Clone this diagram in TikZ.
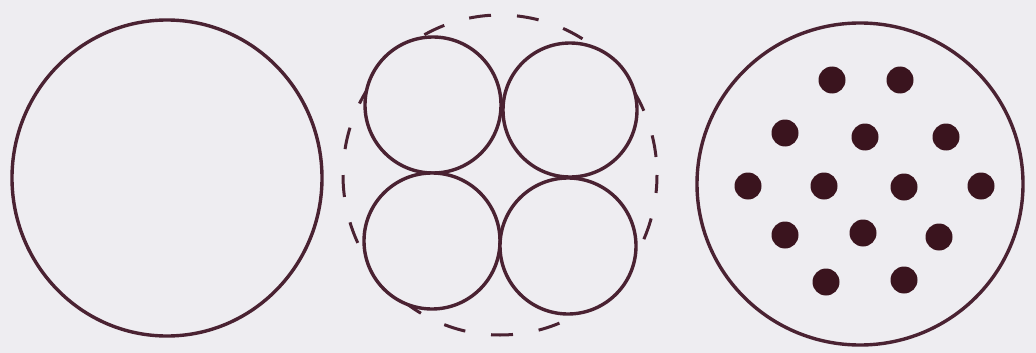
\documentclass[tikz,border=0pt]{standalone}
\usepackage{xcolor}
\definecolor{ink}{HTML}{4A2232}
\definecolor{dotink}{HTML}{3A141E}
\definecolor{paper}{HTML}{EEEDF1}
\begin{document}
\begin{tikzpicture}[x=1pt,y=-1pt,
  ring/.style={draw=ink,line width=3.4pt},
  dashring/.style={draw=ink,line width=3pt,dash pattern=on 22pt off 26pt,dash phase=4pt},
  dot/.style={fill=dotink}]
\fill[paper] (0,0) rectangle (1036,353);
\useasboundingbox (0,0) rectangle (1036,353);
% left
\draw[ring] (167,178) ellipse [x radius=155,y radius=158];
% middle
\draw[dashring] (500,175) ellipse [x radius=157,y radius=160];
\draw[ring,fill=paper] (433,105) circle (68);
\draw[ring,fill=paper] (570,110) circle (67);
\draw[ring,fill=paper] (432,241) circle (68);
\draw[ring,fill=paper] (568,246) circle (68);
% right
\draw[ring] (860,184) ellipse [x radius=163,y radius=161];
\foreach \p in {(832,80),(900,80),(785,133),(865,137),(946,137),(748,186),(824,186),(904,187),(981,186),(785,235),(863,233),(939,237),(826,282),(904,280)}
  \fill[dot] \p circle (13.5);
\end{tikzpicture}
\end{document}
